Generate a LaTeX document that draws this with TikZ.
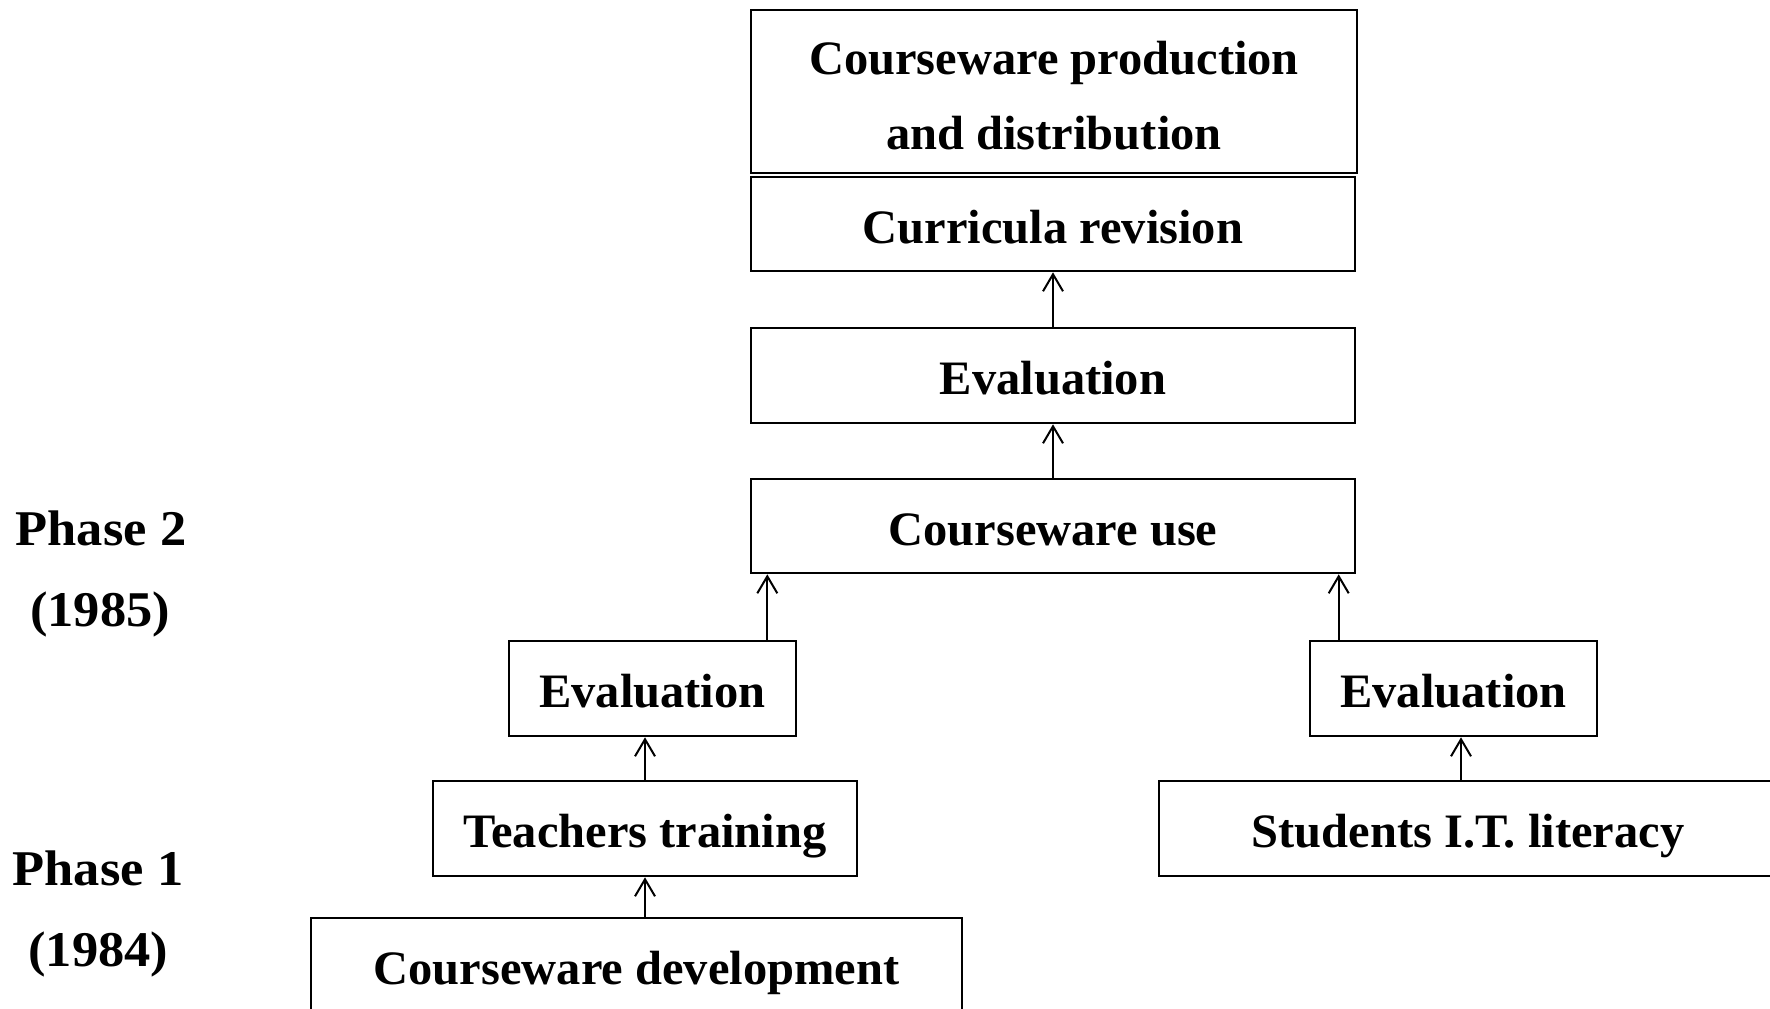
\documentclass[tikz,border=0pt]{standalone}
\usepackage{fontspec}
\setmainfont{Liberation Serif}
\newfontfamily\boxfont[FakeStretch=1.01]{Liberation Serif}
\newfontfamily\phasefont[FakeStretch=1.05]{Liberation Serif}
\usetikzlibrary{arrows.meta}

\begin{document}
\begin{tikzpicture}[x=0.5pt,y=-0.5pt,
  framed/.style={draw, line width=1.3pt, inner sep=0pt,
    font=\boxfont\bfseries\fontsize{24}{37.5}\selectfont},
  stepbox/.style={framed, text height=19pt, text depth=0pt},
  link/.style={line width=1pt, -{Straight Barb[length=8.5pt,width=10pt]}},
  phase/.style={anchor=base, inner sep=0pt,
    font=\phasefont\bfseries\fontsize{25}{30}\selectfont}]
\useasboundingbox (0,0) rectangle (1770,1008);

% central column
\node[framed, align=center, minimum width=303pt, minimum height=81.5pt] (prod) at (1054,91.5)
  {\rule{0pt}{21pt}Courseware production\\and distribution};
\node[stepbox, minimum width=302pt, minimum height=47pt] (curr) at (1053,224) {Curricula revision};
\node[stepbox, minimum width=302pt, minimum height=47.5pt] (evalT) at (1053,375.5) {Evaluation};
\node[stepbox, minimum width=302pt, minimum height=47pt] (use) at (1053,526) {Courseware use};

% left branch
\node[stepbox, minimum width=143.5pt, minimum height=47.5pt] (evalL) at (652.5,688.5) {Evaluation};
\node[stepbox, minimum width=212pt, minimum height=47.5pt] (teach) at (645,828.5) {Teachers training};
\node[stepbox, minimum width=325.5pt, minimum height=47.5pt] (dev) at (636.5,965.5) {Courseware development};

% right branch
\node[stepbox, minimum width=143.5pt, minimum height=47.5pt] (evalR) at (1453.5,688.5) {Evaluation};
\node[stepbox, minimum width=309pt, minimum height=47.5pt] (stud) at (1468,828.5) {Students I.T. literacy};

% phase labels
\node[phase] (ph2) at (101,545) {Phase 2};
\node[phase] (ph2y) at (100,626) {(1985)};
\node[phase] (ph1) at (98,885) {Phase 1};
\node[phase] (ph1y) at (98.5,966) {(1984)};

% connectors
\draw[link] (evalT.north) -- (curr.south);
\draw[link] (use.north) -- (evalT.south);
\draw[link] ([xshift=-15pt]evalL.north east) -- ([xshift=-15pt]evalL.north east |- use.south);
\draw[link] ([xshift=15pt]evalR.north west) -- ([xshift=15pt]evalR.north west |- use.south);
\draw[link] (teach.north) -- (teach.north |- evalL.south);
\draw[link] (teach.south |- dev.north) -- (teach.south);
\draw[link] ([xshift=-3.5pt]stud.north) -- ([xshift=-3.5pt]stud.north |- evalR.south);
\end{tikzpicture}
\end{document}
